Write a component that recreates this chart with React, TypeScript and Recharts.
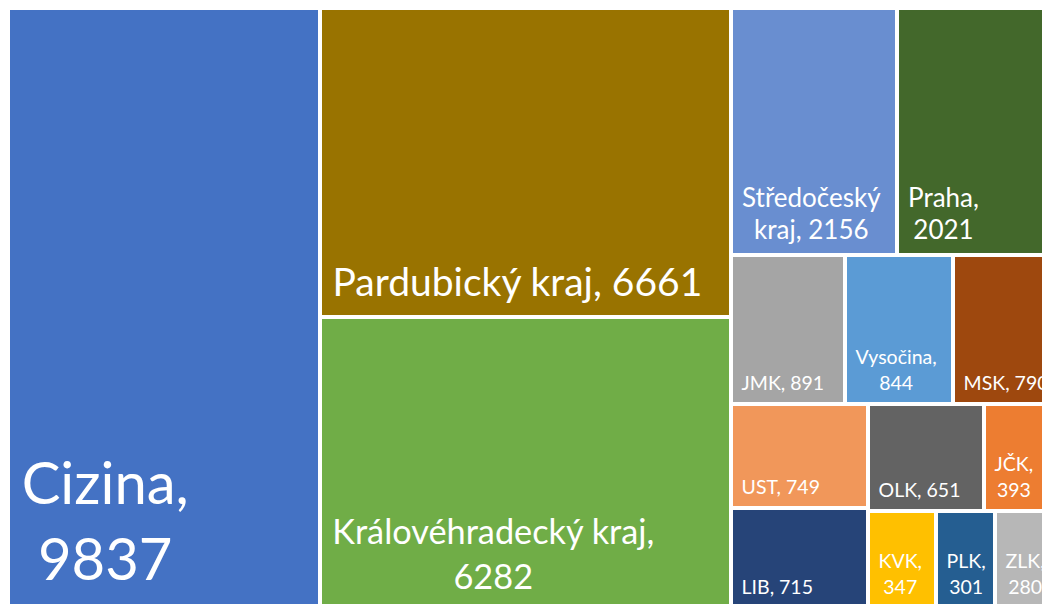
import { Treemap } from "recharts"

// počty podle kraje (seřazeno sestupně, jako v Excelu)
const regions = [
  "Cizina",
  "Pardubický kraj",
  "Královéhradecký kraj",
  "Středočeský kraj",
  "Praha",
  "JMK",
  "Vysočina",
  "MSK",
  "UST",
  "LIB",
  "OLK",
  "JČK",
  "KVK",
  "PLK",
  "ZLK",
]
const counts = [9837, 6661, 6282, 2156, 2021, 891, 844, 790, 749, 715, 651, 393, 347, 301, 280]

const colors = [
  "#4472C4",
  "#997300",
  "#70AD47",
  "#698ED0",
  "#43682B",
  "#A5A5A5",
  "#5B9BD5",
  "#9E480E",
  "#F1975A",
  "#264478",
  "#636363",
  "#ED7D31",
  "#FFC000",
  "#255E91",
  "#B7B7B7",
]
// velikost popisku a po kolika slovech se zalomí (0 = jeden řádek)
const labelSize = [58, 39, 34.3, 26, 26, 19.5, 19.5, 19.5, 19.5, 19.5, 19.5, 19.5, 19.5, 19.5, 19.5]
const labelBreak = [1, 0, 2, 1, 1, 0, 1, 0, 0, 0, 0, 1, 1, 1, 1]

const FONT = "Lato"

const data = regions.map((name, i) => ({ name, size: counts[i] }))

let ctx: CanvasRenderingContext2D | null = null
function textWidth(text: string, size: number) {
  if (!ctx) ctx = document.createElement("canvas").getContext("2d")
  if (!ctx) return text.length * size * 0.5
  ctx.font = `${size}px ${FONT}`
  return ctx.measureText(text).width
}

function Cell(props: any) {
  const { x, y, width, height, depth } = props
  if (depth !== 1) return <g />
  const name = props.name ?? props.payload?.name
  const value = props.size ?? props.value
  const i = regions.indexOf(name)
  const size = labelSize[i]
  const words = `${name}, ${value}`.split(" ")
  const br = labelBreak[i]
  const lines = br > 0 ? [words.slice(0, br).join(" "), words.slice(br).join(" ")] : [words.join(" ")]
  const blockW = Math.max(...lines.map((l) => textWidth(l, size)))
  const left = x + 9 + 0.08 * size
  // Středočeský/Praha mají v originále hustší řádkování
  const lineH = size * (size === 26 ? 1.2 : 1.31)
  const lastBase = y + height - (6.9 + 0.364 * size)

  return (
    <g>
      <rect x={x} y={y} width={width} height={height} fill={colors[i]} stroke="#fff" strokeWidth={4} />
      <text fill="#fff" fontFamily={FONT} fontSize={size} textAnchor="middle">
        {lines.map((l, k) => (
          <tspan key={k} x={left + blockW / 2} y={lastBase - (lines.length - 1 - k) * lineH}>
            {l}
          </tspan>
        ))}
      </text>
    </g>
  )
}

export default function App() {
  return (
    <div
      style={{
        position: "fixed",
        left: 0,
        top: 0,
        width: 1042,
        height: 604,
        overflow: "hidden",
        background: "#fff",
      }}
    >
      <div style={{ position: "absolute", left: 8, top: 8 }}>
        <Treemap
          width={1045}
          height={600}
          data={data}
          dataKey="size"
          nameKey="name"
          aspectRatio={1}
          isAnimationActive={false}
          content={<Cell />}
        />
      </div>
    </div>
  )
}
